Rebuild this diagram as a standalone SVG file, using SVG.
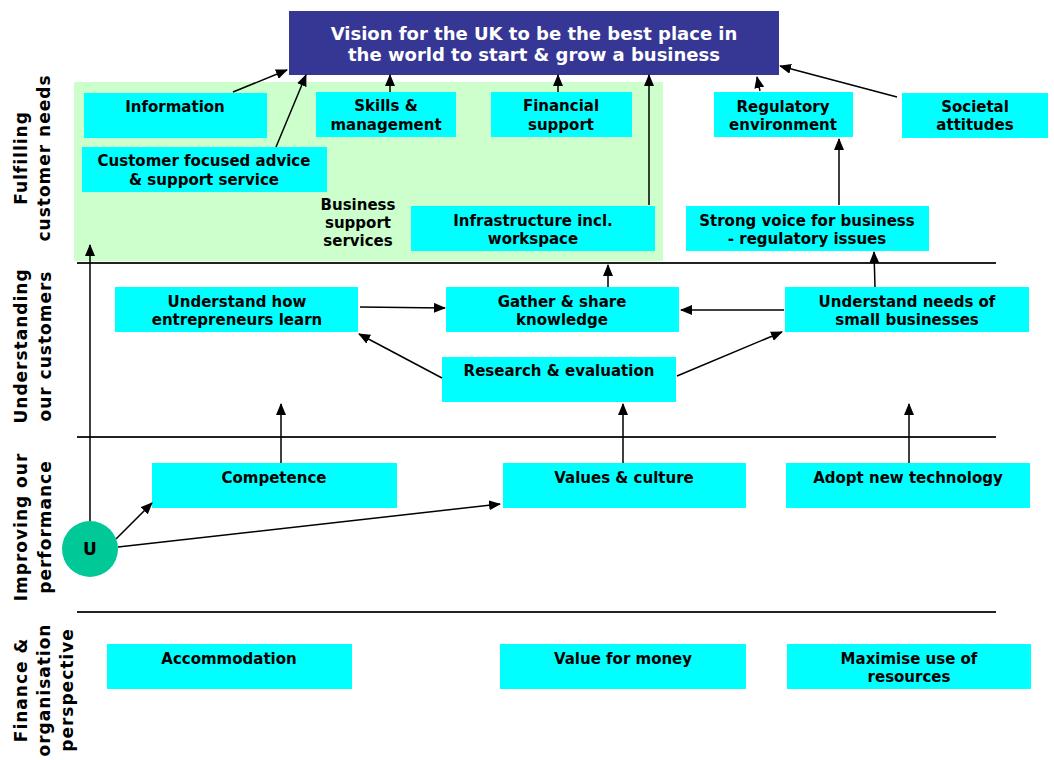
<svg xmlns="http://www.w3.org/2000/svg" width="1054" height="760" viewBox="0 0 1054 760">
<defs>
<marker id="ah" viewBox="0 0 12 10" refX="11" refY="5" markerWidth="12" markerHeight="10" markerUnits="userSpaceOnUse" orient="auto">
<path d="M0,0 L12,5 L0,10 z" fill="#000"/>
</marker>
</defs>
<style>
.box{fill:#00ffff}
.t{font-family:"DejaVu Sans",Verdana,sans-serif;font-weight:bold;font-size:15px;fill:#000;text-anchor:middle}
.lane{font-family:"DejaVu Sans",Verdana,sans-serif;font-weight:bold;font-size:17px;fill:#000;text-anchor:middle;letter-spacing:1px}
.sep{stroke:#222;stroke-width:2}
.c{stroke:#000;stroke-width:1.5;fill:none;marker-end:url(#ah)}
</style>
<rect width="1054" height="760" fill="#fff"/>
<rect x="74" y="82" width="589" height="179" fill="#ccffcc"/>
<g id="separators">
<line class="sep" x1="77" y1="263" x2="996" y2="263"/>
<line class="sep" x1="77" y1="437" x2="996" y2="437"/>
<line class="sep" x1="77" y1="612" x2="996" y2="612"/>
</g>
<g id="lanes">
<text class="lane" transform="translate(27,158) rotate(-90)">Fulfilling</text>
<text class="lane" transform="translate(50,158) rotate(-90)">customer needs</text>
<text class="lane" transform="translate(27,346) rotate(-90)">Understanding</text>
<text class="lane" transform="translate(51,346) rotate(-90)">our customers</text>
<text class="lane" transform="translate(27,527) rotate(-90)">Improving our</text>
<text class="lane" transform="translate(51,527) rotate(-90)">performance</text>
<text class="lane" transform="translate(27,690) rotate(-90)">Finance &amp;</text>
<text class="lane" transform="translate(50,690) rotate(-90)">organisation</text>
<text class="lane" transform="translate(73,690) rotate(-90)">perspective</text>
</g>
<g id="vision">
<rect x="289" y="11" width="490" height="64" fill="#363795"/>
<text class="t" style="fill:#fff;font-size:18px" x="534" y="40">Vision for the UK to be the best place in</text>
<text class="t" style="fill:#fff;font-size:18px" x="534" y="61">the world to start &amp; grow a business</text>
</g>
<g id="information"><rect class="box" x="84" y="93" width="183" height="45"/><text class="t" x="175" y="112">Information</text></g>
<g id="skills"><rect class="box" x="316" y="92" width="140" height="45"/><text class="t" x="386" y="111">Skills &amp;</text><text class="t" x="386" y="130">management</text></g>
<g id="financial"><rect class="box" x="491" y="92" width="141" height="45"/><text class="t" x="561" y="111">Financial</text><text class="t" x="561" y="130">support</text></g>
<g id="regulatory"><rect class="box" x="714" y="92" width="139" height="45"/><text class="t" x="783" y="112">Regulatory</text><text class="t" x="783" y="130">environment</text></g>
<g id="societal"><rect class="box" x="902" y="93" width="146" height="45"/><text class="t" x="975" y="112">Societal</text><text class="t" x="975" y="130">attitudes</text></g>
<g id="advice"><rect class="box" x="82" y="147" width="245" height="45"/><text class="t" x="204" y="166">Customer focused advice</text><text class="t" x="204" y="185">&amp; support service</text></g>
<g id="bss"><text class="t" x="358" y="210">Business</text><text class="t" x="358" y="228">support</text><text class="t" x="358" y="246">services</text></g>
<g id="infrastructure"><rect class="box" x="411" y="206" width="244" height="45"/><text class="t" x="533" y="226">Infrastructure incl.</text><text class="t" x="533" y="244">workspace</text></g>
<g id="voice"><rect class="box" x="686" y="206" width="243" height="45"/><text class="t" x="807" y="226">Strong voice for business</text><text class="t" x="807" y="244">- regulatory issues</text></g>
<g id="learn"><rect class="box" x="115" y="287" width="243" height="45"/><text class="t" x="237" y="307">Understand how</text><text class="t" x="237" y="325">entrepreneurs learn</text></g>
<g id="gather"><rect class="box" x="446" y="287" width="233" height="45"/><text class="t" x="562" y="307">Gather &amp; share</text><text class="t" x="562" y="325">knowledge</text></g>
<g id="needs"><rect class="box" x="785" y="287" width="244" height="45"/><text class="t" x="907" y="307">Understand needs of</text><text class="t" x="907" y="325">small businesses</text></g>
<g id="research"><rect class="box" x="442" y="357" width="234" height="45"/><text class="t" x="559" y="376">Research &amp; evaluation</text></g>
<g id="competence"><rect class="box" x="152" y="463" width="245" height="45"/><text class="t" x="274" y="483">Competence</text></g>
<g id="values"><rect class="box" x="503" y="463" width="243" height="45"/><text class="t" x="624" y="483">Values &amp; culture</text></g>
<g id="technology"><rect class="box" x="786" y="463" width="244" height="45"/><text class="t" x="908" y="483">Adopt new technology</text></g>
<g id="accommodation"><rect class="box" x="107" y="644" width="245" height="45"/><text class="t" x="229" y="664">Accommodation</text></g>
<g id="vfm"><rect class="box" x="500" y="644" width="246" height="45"/><text class="t" x="623" y="664">Value for money</text></g>
<g id="maximise"><rect class="box" x="787" y="644" width="244" height="45"/><text class="t" x="909" y="664">Maximise use of</text><text class="t" x="909" y="682">resources</text></g>
<g id="connectors">
<line class="c" x1="233" y1="92" x2="287" y2="70"/>
<line class="c" x1="276" y1="147" x2="306" y2="75"/>
<line class="c" x1="390" y1="92" x2="390" y2="75"/>
<line class="c" x1="558" y1="92" x2="558" y2="75"/>
<line class="c" x1="649" y1="205" x2="649" y2="75"/>
<line class="c" x1="760" y1="91" x2="757" y2="77"/>
<line class="c" x1="897" y1="97" x2="780" y2="66"/>
<line class="c" x1="839" y1="205" x2="839" y2="139"/>
<line class="c" x1="608" y1="287" x2="608" y2="265"/>
<line class="c" x1="875" y1="287" x2="874" y2="252"/>
<line class="c" x1="360" y1="307" x2="445" y2="308"/>
<line class="c" x1="784" y1="310" x2="681" y2="310"/>
<line class="c" x1="442" y1="378" x2="359" y2="334"/>
<line class="c" x1="677" y1="376" x2="782" y2="332"/>
<line class="c" x1="281" y1="463" x2="281" y2="404"/>
<line class="c" x1="623" y1="463" x2="623" y2="404"/>
<line class="c" x1="909" y1="463" x2="909" y2="404"/>
<line class="c" x1="90" y1="521" x2="90" y2="245"/>
<line class="c" x1="116" y1="539" x2="152" y2="503"/>
<line class="c" x1="118" y1="547" x2="500" y2="504"/>
</g>
<g id="u">
<circle cx="90" cy="549" r="28" fill="#00c896"/>
<text class="t" x="90" y="555" style="font-size:17px">U</text>
</g>
</svg>
